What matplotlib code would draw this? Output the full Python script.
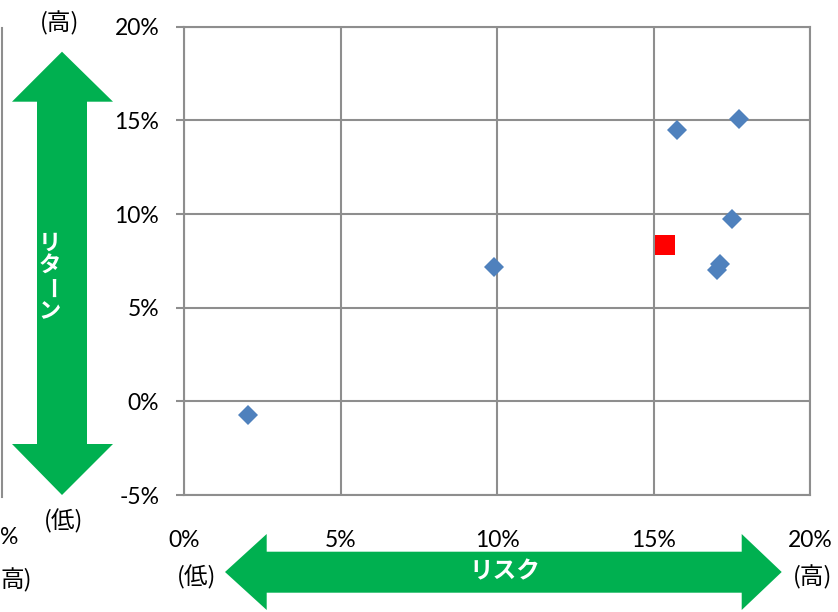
"""Risk / return scatter with green axis arrows."""

import matplotlib

matplotlib.use("Agg")
import matplotlib.pyplot as plt
from matplotlib.patches import Polygon
from matplotlib.lines import Line2D
from matplotlib.ticker import FuncFormatter

plt.rcParams["font.family"] = ["Lato", "Noto Sans CJK JP", "DejaVu Sans"]

# data (percent)
fund_risk = [2.05, 9.91, 15.74, 17.74, 17.51, 17.12, 17.04]
fund_return = [-0.73, 7.19, 14.47, 15.06, 9.72, 7.31, 7.01]
bench_risk = [15.38]
bench_return = [8.33]

x_ticks = [0, 5, 10, 15, 20]
y_ticks = [-5, 0, 5, 10, 15, 20]

W, H = 838, 612
GREEN = "#00B050"
GRID = "#8E8E8E"


def px(x, y):
    """pixel position (top-left origin) -> figure fraction"""
    return (x / W, 1 - y / H)


fig = plt.figure(figsize=(W / 100, H / 100), dpi=100)
ax = fig.add_axes([184 / W, 1 - 495 / H, (810 - 184) / W, (495 - 26.7) / H])

ax.set_xlim(x_ticks[0], x_ticks[-1])
ax.set_ylim(y_ticks[0], y_ticks[-1])
ax.set_xticks(x_ticks)
ax.set_yticks(y_ticks)
pct = FuncFormatter(lambda v, _: f"{v:.0f}%")
ax.xaxis.set_major_formatter(pct)
ax.yaxis.set_major_formatter(pct)
ax.grid(True, color=GRID, linewidth=1.5)
ax.set_axisbelow(True)
for s in ax.spines.values():
    s.set_color(GRID)
    s.set_linewidth(1.5)
ax.tick_params(axis="y", length=5.8, width=1.5, color=GRID, labelsize=16.5, pad=12)
ax.tick_params(axis="x", length=0, labelsize=16.5, pad=25)

ax.plot(fund_risk, fund_return, linestyle="none", marker="D", markersize=9.7,
        color="#4F81BD", markeredgewidth=0, clip_on=False)
ax.plot(bench_risk, bench_return, linestyle="none", marker="s", markersize=13.7,
        color="#FF0000", markeredgewidth=0, clip_on=False)

# vertical double arrow (return)
v_pts = [(62, 51.7), (113, 101.7), (87, 101.7), (87, 444), (113, 444), (62, 495),
         (12, 444), (37, 444), (37, 101.7), (12, 101.7)]
fig.patches.append(Polygon([px(*p) for p in v_pts], closed=True, facecolor=GREEN,
                           edgecolor="none", transform=fig.transFigure))
for i, ch in enumerate(["リ", "タ", "ー", "ン"]):
    fig.text(*px(50, 243 + i * 23), ch, rotation=-90 if ch == "ー" else 0,
             color="white", fontsize=16, fontweight="bold",
             family=["Noto Sans CJK JP"], ha="center", va="center")

# horizontal double arrow (risk)
h_pts = [(225, 572), (266.7, 534), (266.7, 551.7), (741.7, 551.7), (741.7, 534),
         (781.7, 572), (741.7, 610), (741.7, 592.7), (266.7, 592.7), (266.7, 610)]
fig.patches.append(Polygon([px(*p) for p in h_pts], closed=True, facecolor=GREEN,
                           edgecolor="none", transform=fig.transFigure))
fig.text(*px(505, 571), "リスク", color="white", fontsize=17, fontweight="bold",
         family=["Noto Sans CJK JP"], ha="center", va="center")

lbl = dict(fontsize=17, family=["Noto Sans CJK JP"], ha="center", va="center")
fig.text(*px(60, 23), "(高)", **lbl)
fig.text(*px(64, 521), "(低)", **lbl)
fig.text(*px(197, 577), "(低)", **lbl)
fig.text(*px(813, 577), "(高)", **lbl)

# edge of the neighbouring chart, cut off on the left
fig.lines.append(Line2D([2 / W, 2 / W], [1 - 28 / H, 1 - 497 / H], color=GRID,
                        linewidth=1.5, transform=fig.transFigure))
fig.text(*px(0, 537), "%", fontsize=16.5, ha="left", va="center")
fig.text(*px(0, 580), "高)", fontsize=17, family=["Noto Sans CJK JP"],
         ha="left", va="center")

fig.savefig("out.png", dpi=100)
